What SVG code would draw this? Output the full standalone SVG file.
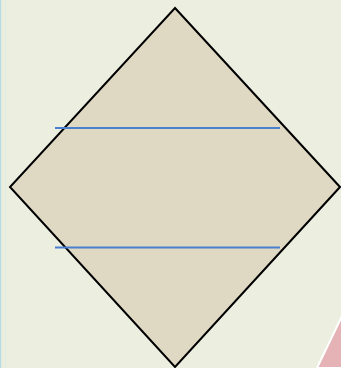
<svg xmlns="http://www.w3.org/2000/svg" width="341" height="368" viewBox="0 0 341 368">
<style>
.bl{stroke:#4a7fd0;stroke-width:2;fill:none}
</style>
<rect width="341" height="368" fill="#ECEFE0"/>
<line x1="0.5" y1="0" x2="0.5" y2="368" stroke="#B8DCE6" stroke-width="1.5"/>
<line x1="5.5" y1="0" x2="5.5" y2="368" stroke="#DCEBE4" stroke-width="1"/>
<polygon points="342,316 342,368 317,368" fill="#E5B3B6" stroke="#FFFFFF" stroke-width="2"/>
<g id="diamond">
<polygon points="175,8 340,187 175,367 10,187" fill="#DFD9C4" stroke="#000" stroke-width="2"/>
</g>
<g id="connectors">
<line class="bl" x1="55" y1="128" x2="280" y2="128"/>
<line class="bl" x1="55" y1="247.5" x2="280" y2="247.5"/>
</g>
</svg>
